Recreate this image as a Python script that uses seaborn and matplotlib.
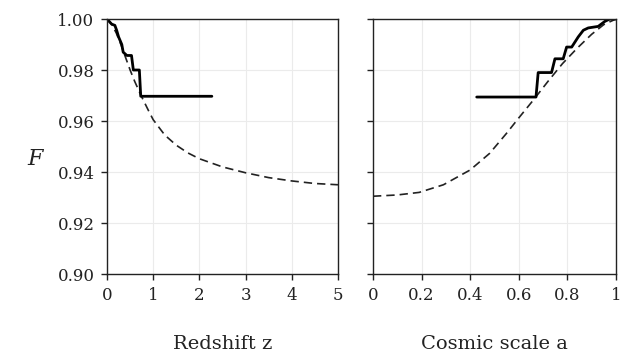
import matplotlib
matplotlib.use("Agg")
import matplotlib.pyplot as plt
import seaborn as sns
import pandas as pd

# Dashed model curve vs redshift
z_model = [0, 0.1, 0.2, 0.3, 0.4, 0.5, 0.6, 0.75, 0.9, 1.0, 1.25, 1.5, 1.75, 2.0, 2.5,
           3.0, 3.5, 4.0, 4.5, 5.0]
F_model_z = [1.000, 0.998, 0.9945, 0.990, 0.985, 0.980, 0.9755, 0.9695, 0.964, 0.9605,
             0.9545, 0.9505, 0.9475, 0.9452, 0.942, 0.9397, 0.9378, 0.9365, 0.9355, 0.935]

# Solid step line vs redshift
z_steps = [0, 0.10, 0.17, 0.21, 0.25, 0.32, 0.35, 0.43, 0.53, 0.57, 0.70, 0.73, 2.27]
F_steps_z = [1.000, 0.998, 0.9975, 0.9955, 0.993, 0.990, 0.987, 0.9857, 0.9857, 0.980,
             0.980, 0.9697, 0.9697]

# Dashed model curve vs cosmic scale factor
a_model = [0.0, 0.1, 0.19, 0.29, 0.40, 0.48, 0.55, 0.60, 0.66, 0.72, 0.78, 0.84, 0.90,
           0.95, 1.0]
F_model_a = [0.9305, 0.931, 0.932, 0.935, 0.9408, 0.9473, 0.9552, 0.9612, 0.9682, 0.9755,
             0.9825, 0.9885, 0.994, 0.9978, 1.0]

# Solid step line vs cosmic scale factor
a_steps = [0.427, 0.671, 0.680, 0.735, 0.749, 0.783, 0.797, 0.818, 0.845, 0.866, 0.886,
           0.927, 0.955, 0.975, 1.0]
F_steps_a = [0.9694, 0.9694, 0.979, 0.979, 0.9844, 0.9844, 0.989, 0.989, 0.993, 0.9956,
             0.9965, 0.9971, 0.9991, 1.0, 1.0]

y_ticks = [0.90, 0.92, 0.94, 0.96, 0.98, 1.00]
y_ticklabels = ["0.90", "0.92", "0.94", "0.96", "0.98", "1.00"]
z_ticks = [0, 1, 2, 3, 4, 5]
a_ticks = [0, 0.2, 0.4, 0.6, 0.8, 1.0]
a_ticklabels = ["0", "0.2", "0.4", "0.6", "0.8", "1"]

sns.set_theme(style="white")
plt.rcParams["font.family"] = ["DejaVu Serif"]

fig = plt.figure(figsize=(6.31, 3.56), dpi=100)
ax1 = fig.add_axes([0.1696, 0.2303, 0.366, 0.7163])
ax2 = fig.add_axes([0.5911, 0.2303, 0.385, 0.7163])

df_mz = pd.DataFrame({"x": z_model, "F": F_model_z})
df_sz = pd.DataFrame({"x": z_steps, "F": F_steps_z})
df_ma = pd.DataFrame({"x": a_model, "F": F_model_a})
df_sa = pd.DataFrame({"x": a_steps, "F": F_steps_a})

for ax, dm, ds in [(ax1, df_mz, df_sz), (ax2, df_ma, df_sa)]:
    sns.lineplot(data=dm, x="x", y="F", ax=ax, color="#222222", lw=1.2,
                 linestyle=(0, (5, 3)), sort=False, estimator=None)
    sns.lineplot(data=ds, x="x", y="F", ax=ax, color="black", lw=2.0,
                 sort=False, estimator=None)
    ax.set_ylim(0.90, 1.00)
    ax.set_yticks(y_ticks)
    ax.grid(True, color="#ebebeb", lw=0.8)
    for s in ax.spines.values():
        s.set_color("#222222")
        s.set_linewidth(1.0)
    ax.tick_params(axis="both", direction="out", length=4, width=1, color="#222222",
                   labelsize=12, labelcolor="#222222", pad=5,
                   bottom=True, left=True)

ax1.set_xlim(0, 5)
ax1.set_xticks(z_ticks)
ax1.set_yticklabels(y_ticklabels)
ax1.set_xlabel("Redshift z", fontsize=14, color="#222222", labelpad=23)
ax1.set_ylabel("F", fontsize=16, style="italic", rotation=0, color="#222222",
               va="center")
ax1.yaxis.set_label_coords(-0.31, 0.45)

ax2.set_xlim(0, 1)
ax2.set_xticks(a_ticks)
ax2.set_xticklabels(a_ticklabels)
ax2.set_yticklabels([])
ax2.set_xlabel("Cosmic scale a", fontsize=14, color="#222222", labelpad=23)
ax2.set_ylabel("")

fig.savefig("out.png", dpi=100)
